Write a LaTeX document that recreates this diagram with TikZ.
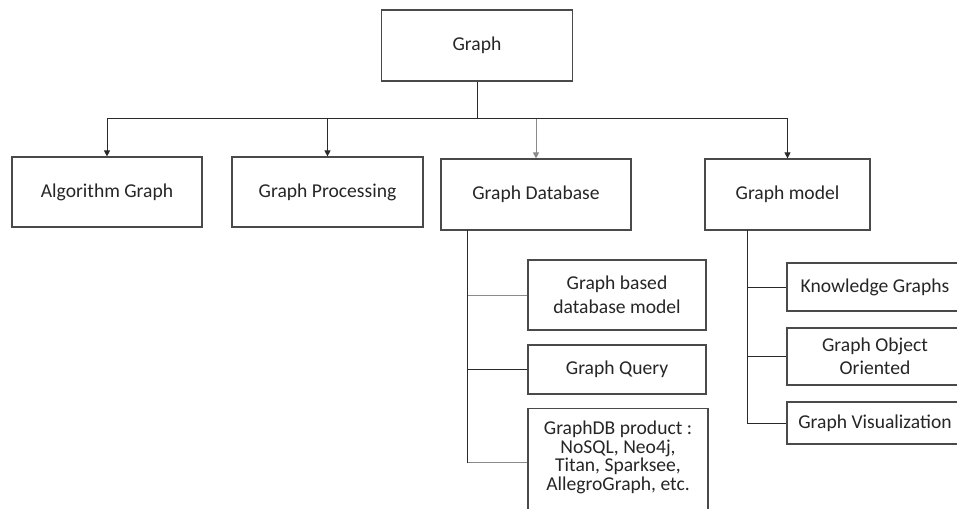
\documentclass[tikz,border=0pt]{standalone}
\usepackage{fontspec}
\setmainfont{Carlito}
\usetikzlibrary{arrows.meta}
\definecolor{boxline}{HTML}{4A4A4A}
\definecolor{conn}{HTML}{2A2A2A}
\definecolor{lightconn}{HTML}{8A8A8A}
\begin{document}
\begin{tikzpicture}[x=1pt,y=-1pt,
  box/.style={draw=boxline,line width=1.2pt,rectangle,align=center,inner sep=4pt,
    font=\fontsize{19.6}{23.5}\selectfont,text=black!85},
  link/.style={draw=conn,line width=1pt},
  lightlink/.style={draw=lightconn,line width=0.9pt},
  arr/.style={-{Triangle[length=6pt,width=6pt]}}]
\useasboundingbox (0,0) rectangle (957,508);
\clip (0,0) rectangle (957,508);
\fill[white] (0,0) rectangle (957,508);
% top
\node[box,minimum width=191pt,minimum height=71pt] (g) at (477,45.5) {Graph};
% second level
\node[box,minimum width=190pt,minimum height=70pt] (ag) at (107,192) {Algorithm Graph};
\node[box,minimum width=191pt,minimum height=70pt] (gp) at (327.5,192) {Graph Processing};
\node[box,minimum width=190pt,minimum height=71pt] (gd) at (536,194.5) {Graph Database};
\node[box,minimum width=165pt,minimum height=71pt] (gm) at (787.5,194.5) {Graph model};
% database children
\node[box,minimum width=178pt,minimum height=70pt] (gbm) at (617,295) {Graph based\\database model};
\node[box,minimum width=178pt,minimum height=49pt] (gq) at (617,369.5) {Graph Query};
\node[box,minimum width=180pt,anchor=north,inner ysep=5pt,
  font=\fontsize{19.6}{18.5}\selectfont] (gdp) at (618,408)
  {\rule{0pt}{21pt}GraphDB product :\\NoSQL, Neo4j,\\Titan, Sparksee,\\AllegroGraph, etc.\rule[-22pt]{0pt}{22pt}};
% model children
\node[box,minimum width=176pt,minimum height=48pt] (kg) at (875,287) {Knowledge Graphs};
\node[box,minimum width=176pt,minimum height=57pt] (goo) at (875,356.5) {Graph Object\\Oriented};
\node[box,minimum width=176pt,minimum height=42pt] (gv) at (875,423) {Graph Visualization};
% bus
\coordinate (bus) at (477,118);
\draw[link] (g.south) -- (bus);
\draw[link,arr] (bus) -| (ag.north);
\draw[link,arr] (bus) -| (gp.north);
\draw[lightlink,arr] (bus) -| (gd.north);
\draw[link,arr] (bus) -| (gm.north);
% database tree
\coordinate (gdb) at (467,230);
\draw[link] (gdb) |- (gq.west);
\draw[lightlink] (gdb) |- (gbm.west);
\draw[lightlink] (gdb) |- (gdp.west);
\draw[link] (gdb) -- (gdb |- gdp.west);
% model tree
\coordinate (gmb) at (747,230);
\draw[link] (gmb) |- (kg.west);
\draw[link] (gmb) |- (goo.west);
\draw[link] (gmb) |- (gv.west);
\end{tikzpicture}
\end{document}
